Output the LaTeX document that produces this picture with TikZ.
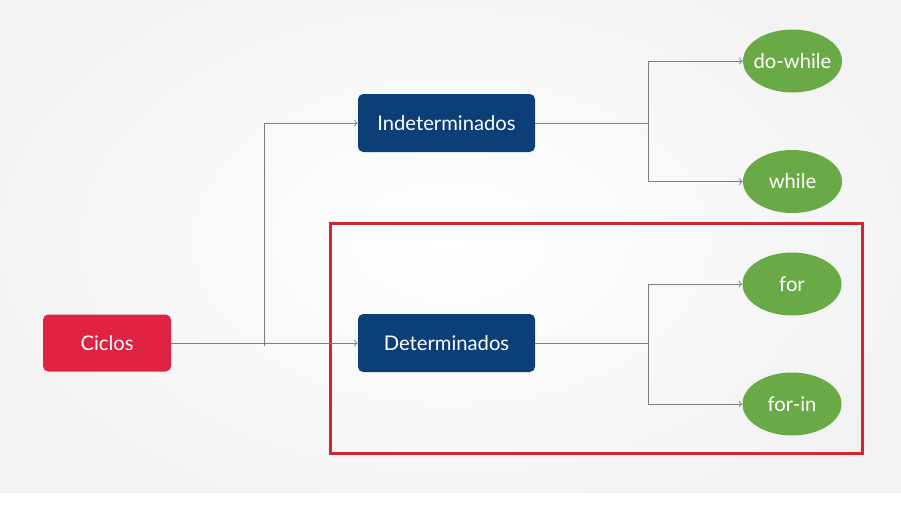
\documentclass[tikz,border=0pt]{standalone}
\usepackage{fontspec}
\setmainfont{Lato}
\usetikzlibrary{positioning, shapes.geometric}
\usepackage{xcolor}
\definecolor{rojo}{RGB}{224,35,67}
\definecolor{azul}{RGB}{12,63,120}
\definecolor{verde}{RGB}{106,170,70}
\definecolor{marco}{RGB}{204,40,52}
\definecolor{linea}{RGB}{125,125,125}

\begin{document}
\begin{tikzpicture}[
		caja/.style={rectangle, rounded corners=3pt, minimum width=3.54cm, minimum height=1.16cm, text=white, font=\fontsize{11.5}{13}\selectfont},
		hoja/.style={ellipse, fill=verde, minimum width=1.98cm, minimum height=1.26cm, inner xsep=-0.08cm, inner ysep=0pt, text=white, font=\fontsize{11.5}{13}\selectfont},
		flecha/.style={->, draw=linea, line width=0.5pt}]
			% Fondo
			\fill[white] (0,0) rectangle (18.02,10.12);
			\begin{scope}
				\clip (0,0.28) rectangle (18.02,10.12);
				\shade[inner color=white, outer color=black!5] (-1,-1) rectangle (19.02,11.6);
			\end{scope}
			\useasboundingbox (0,0) rectangle (18.02,10.12);
			% Marco
			\draw[marco, line width=0.06cm] (6.6,1.06) rectangle (17.24,5.66);
			% Nodos
			\node[caja, fill=rojo, minimum width=2.56cm, minimum height=1.14cm] (ciclos) at (2.14,3.26) {Ciclos};
			\node[caja, fill=azul] (indet) at (8.93,7.66) {Indeterminados};
			\node[caja, fill=azul] (det) at (8.93,3.26) {Determinados};
			\node[hoja] (dowhile) at (15.85,8.9) {do-while};
			\node[hoja] (while) at (15.85,6.49) {while};
			\node[hoja] (for) at (15.84,4.44) {for};
			\node[hoja] (forin) at (15.84,2.04) {for-in};
			% Conectores
			\coordinate (rama) at (5.28,3.2);
			\draw[flecha] (ciclos.east) -- (det.west);
			\draw[flecha] (rama) |- (indet.west);
			% indeterminados
			\coordinate (r1) at (12.96,7.66);
			\draw[linea, line width=0.5pt] (indet.east) -- (r1);
			\draw[flecha] (r1) |- (dowhile.west);
			\draw[flecha] (r1) |- (while.west);
			% determinados
			\coordinate (r2) at (12.96,3.26);
			\draw[linea, line width=0.5pt] (det.east) -- (r2);
			\draw[flecha] (r2) |- (for.west);
			\draw[flecha] (r2) |- (forin.west);
		\end{tikzpicture}
\end{document}
